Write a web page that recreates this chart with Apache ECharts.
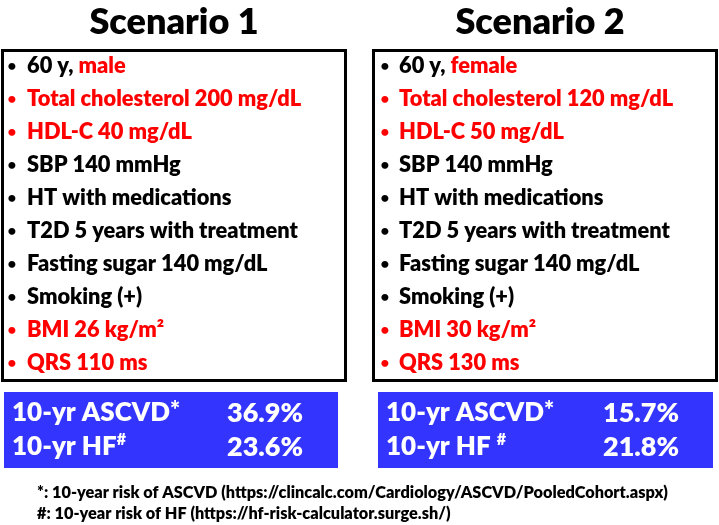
<!DOCTYPE html>
<html>
<head>
<meta charset="utf-8">
<script src="https://cdn.jsdelivr.net/npm/echarts@6/dist/echarts.min.js"></script>
<style>html,body{margin:0;padding:0;background:#fff}#c{width:719px;height:525px}</style>
</head>
<body>
<div id="c"></div>
<script>
// ---- data ----
const scenarioTitles = ['Scenario 1', 'Scenario 2'];
const scenario1Items = [
  '60 y, {r|male}',
  '{r|Total cholesterol 200 mg/dL}',
  '{r|HDL-C 40 mg/dL}',
  'SBP 140 mmHg',
  'HT with medications',
  'T2D 5 years with treatment',
  'Fasting sugar 140 mg/dL',
  'Smoking (+)',
  '{r|BMI 26 kg/m²}',
  '{r|QRS 110 ms}'
];
const scenario2Items = [
  '60 y, {r|female}',
  '{r|Total cholesterol 120 mg/dL}',
  '{r|HDL-C 50 mg/dL}',
  'SBP 140 mmHg',
  'HT with medications',
  'T2D 5 years with treatment',
  'Fasting sugar 140 mg/dL',
  'Smoking (+)',
  '{r|BMI 30 kg/m²}',
  '{r|QRS 130 ms}'
];
const riskLabels1 = ['10-yr ASCVD{star|*}', '10-yr HF{sup|#}'];
const riskLabels2 = ['10-yr ASCVD{star|*}', '10-yr HF {sup|#}'];
const riskValues1 = ['36.9%', '23.6%'];
const riskValues2 = ['15.7%', '21.8%'];
const footnotes = [
  '*: 10-year risk of ASCVD (https://clincalc.com/Cardiology/ASCVD/PooledCohort.aspx)',
  '#: 10-year risk of HF (https://hf-risk-calculator.surge.sh/)'
];

// ---- layout ----
const FONT = 'Lato, "Open Sans", sans-serif';
const W = '800 ';
const RED = '#ff0000';
const BLUE = '#3434ff';
const panels = [
  {title: scenarioTitles[0], items: scenario1Items, labels: riskLabels1, values: riskValues1,
   cx: 174, box: {x: 2.5, y: 50.5, width: 343, height: 330}, blue: {x: 4, y: 392, width: 334, height: 76},
   bulletX: 12, textX: 27, labelX: 12, valueX: 227},
  {title: scenarioTitles[1], items: scenario2Items, labels: riskLabels2, values: riskValues2,
   cx: 540, box: {x: 373.5, y: 50.5, width: 343, height: 330}, blue: {x: 378, y: 392, width: 335, height: 76},
   bulletX: 385, textX: 399, labelX: 386, valueX: 603}
];

const elements = [];
panels.forEach(p => {
  elements.push({type: 'text', style: {text: p.title, x: p.cx, y: 22, align: 'center', verticalAlign: 'middle',
    font: W + '36px ' + FONT, fill: '#000'}});
  elements.push({type: 'rect', shape: p.box, style: {fill: '#fff', stroke: '#000', lineWidth: 3}});
  p.items.forEach((t, i) => {
    const y = 66 + i * 33;
    const allRed = t.indexOf('{r|') === 0;
    elements.push({type: 'text', style: {text: '•', x: p.bulletX, y: y, align: 'center', verticalAlign: 'middle',
      font: 'bold 16px ' + FONT, fill: allRed ? RED : '#000'}});
    elements.push({type: 'text', style: {text: t, x: p.textX, y: y, align: 'left', verticalAlign: 'middle',
      font: W + '21.8px ' + FONT, fill: '#000',
      rich: {r: {fill: RED, font: W + '21.8px ' + FONT}}}});
  });
  elements.push({type: 'rect', shape: p.blue, style: {fill: BLUE}});
  p.labels.forEach((t, i) => {
    const y = 413 + i * 34;
    elements.push({type: 'text', style: {text: t, x: p.labelX, y: y, align: 'left', verticalAlign: 'middle',
      font: W + '26px ' + FONT, fill: '#fff',
      rich: {
        star: {font: W + '24px ' + FONT, fill: '#fff', verticalAlign: 'top', lineHeight: 30, padding: [0, 0, 6, 0]},
        sup: {font: W + '16px ' + FONT, fill: '#fff', verticalAlign: 'top', lineHeight: 30, padding: [0, 0, 12, 0]}
      }}});
    elements.push({type: 'text', style: {text: p.values[i], x: p.valueX, y: y, align: 'left', verticalAlign: 'middle',
      font: W + '27px ' + FONT, fill: '#fff'}});
  });
});
footnotes.forEach((t, i) => {
  elements.push({type: 'text', style: {text: t, x: 37, y: 493 + i * 21, align: 'left', verticalAlign: 'middle',
    font: W + '16.3px ' + FONT, fill: '#000'}});
});

const chart = echarts.init(document.getElementById('c'), null, {renderer: 'canvas'});
chart.setOption({
  animation: false,
  backgroundColor: '#fff',
  graphic: {elements: elements}
});
</script>
</body>
</html>
